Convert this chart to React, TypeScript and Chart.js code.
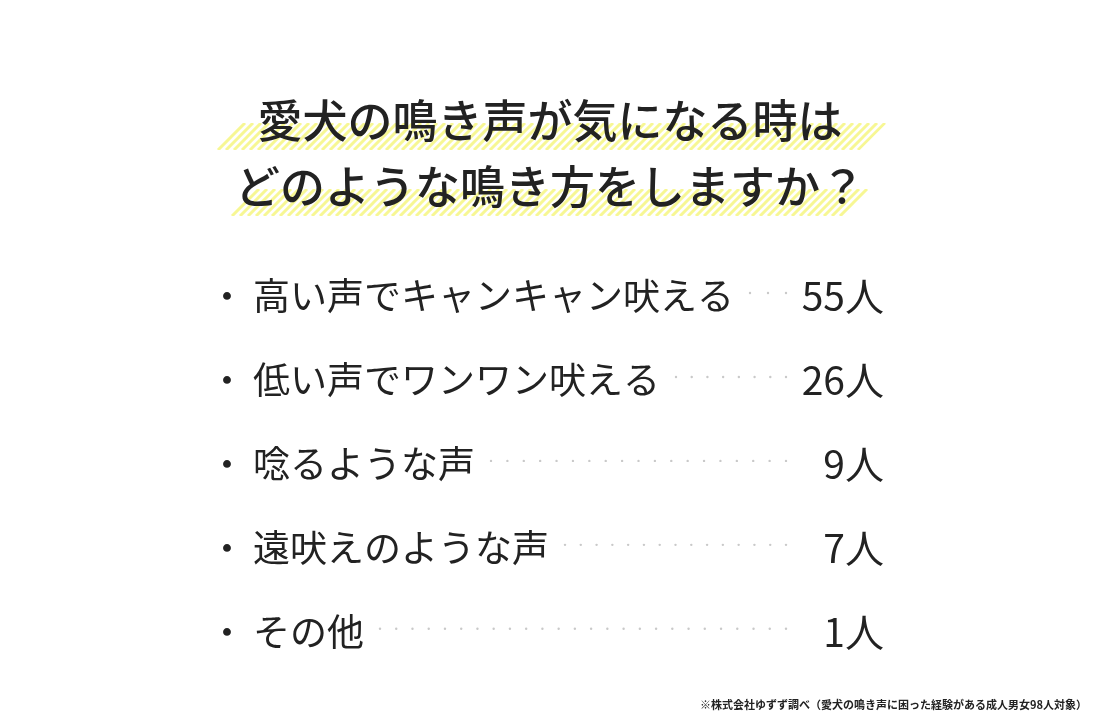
import { useEffect, useRef } from 'react';
import { Chart, registerables } from 'chart.js';

Chart.register(...registerables);

// データ
const titleLines = ['愛犬の鳴き声が気になる時は', 'どのような鳴き方をしますか？'];
const categories = ['高い声でキャンキャン吠える', '低い声でワンワン吠える', '唸るような声', '遠吠えのような声', 'その他'];
const counts = [55, 26, 9, 7, 1];
const unit = '人';
const note = '※株式会社ゆずず調べ（愛犬の鳴き声に困った経験がある成人男女98人対象）';

const FONT = '"Noto Sans CJK JP", "Noto Sans", sans-serif';
const TEXT_COLOR = '#222222';
const TITLE_SIZE = 45;
const TITLE_LINE = 66;

// タイトル背景の黄色ストライプ
const highlightPlugin = {
  id: 'titleHighlight',
  beforeDraw(chart: any) {
    const tb = chart.titleBlock;
    if (!tb) return;
    const { ctx } = chart;
    // 中心からの左右幅（下辺左端 / 上辺右端）
    const spans = [[337, 337], [323, 320]];
    const cx = (tb.left + tb.right) / 2;
    ctx.save();
    titleLines.forEach((_, i) => {
      const cy = tb.top + tb._padding.top + TITLE_LINE * (i + 0.5);
      const left = cx - spans[i][0];
      const right = cx + spans[i][1];
      const top = cy + 2;
      const bottom = cy + 29;
      const h = bottom - top;
      ctx.save();
      ctx.beginPath();
      ctx.moveTo(left, bottom);
      ctx.lineTo(left + h, top);
      ctx.lineTo(right, top);
      ctx.lineTo(right - h, bottom);
      ctx.closePath();
      ctx.clip();
      ctx.strokeStyle = 'rgba(240, 240, 60, 0.55)';
      ctx.lineWidth = 3;
      for (let x = left - h; x < right + h; x += 8) {
        ctx.beginPath();
        ctx.moveTo(x, bottom);
        ctx.lineTo(x + h, top);
        ctx.stroke();
      }
      ctx.restore();
    });
    ctx.restore();
  },
};

// 項目・点線・人数の描画
const rowsPlugin = {
  id: 'rows',
  afterDatasetsDraw(chart: any) {
    const { ctx } = chart;
    const yScale = chart.scales.y;
    const values = chart.data.datasets[0].data as number[];
    const labels = chart.data.labels as string[];
    const bulletX = 227;
    const labelX = 253;
    const leaderEnd = 786;
    const valueRight = 884;
    ctx.save();
    ctx.textBaseline = 'middle';
    labels.forEach((label, i) => {
      const y = yScale.getPixelForValue(i);
      ctx.font = `400 37px ${FONT}`;
      ctx.fillStyle = TEXT_COLOR;
      ctx.textAlign = 'center';
      ctx.fillText('・', bulletX, y);
      ctx.textAlign = 'left';
      ctx.fillText(label, labelX, y);
      const labelEnd = labelX + ctx.measureText(label).width;

      ctx.font = `400 39px ${FONT}`;
      ctx.textAlign = 'right';
      ctx.fillText(`${values[i]}${unit}`, valueRight, y);

      // 点線リーダー
      const start = labelEnd + 16;
      const n = Math.max(1, Math.round((leaderEnd - start) / 16));
      const step = (leaderEnd - start) / n;
      ctx.fillStyle = '#c9c9c9';
      for (let k = 0; k <= n; k++) {
        ctx.beginPath();
        ctx.arc(start + k * step, y - 3, 1.2, 0, Math.PI * 2);
        ctx.fill();
      }
    });
    ctx.restore();
  },
};

export default function App() {
  const canvasRef = useRef<HTMLCanvasElement>(null);
  const chartRef = useRef<Chart | null>(null);

  useEffect(() => {
    document.body.style.margin = '0';
    if (!canvasRef.current) return;
    if (chartRef.current) chartRef.current.destroy();

    chartRef.current = new Chart(canvasRef.current, {
      type: 'bar',
      data: {
        labels: categories,
        datasets: [{
          label: '人数',
          data: counts,
          backgroundColor: 'rgba(0,0,0,0)',
          borderWidth: 0,
        }],
      },
      options: {
        indexAxis: 'y',
        animation: false,
        responsive: true,
        maintainAspectRatio: false,
        events: [],
        layout: { padding: { left: 13, right: 13, top: 0, bottom: 0 } },
        plugins: {
          legend: { display: false },
          tooltip: { enabled: false },
          title: {
            display: true,
            text: titleLines,
            color: TEXT_COLOR,
            font: { family: FONT, size: TITLE_SIZE, weight: 500, lineHeight: TITLE_LINE / TITLE_SIZE },
            padding: { top: 88, bottom: 34 },
          },
          subtitle: {
            display: true,
            text: note,
            position: 'bottom',
            align: 'end',
            color: TEXT_COLOR,
            font: { family: FONT, size: 11, weight: 'bold', lineHeight: 1.2 },
            padding: { top: 24, bottom: 9 },
          },
        },
        scales: {
          x: { display: false, min: 0, max: 60 },
          y: { display: false },
        },
      },
      plugins: [highlightPlugin, rowsPlugin],
    });

    return () => {
      if (chartRef.current) {
        chartRef.current.destroy();
        chartRef.current = null;
      }
    };
  }, []);

  return (
    <div style={{ position: 'absolute', left: 0, top: 0, width: 1100, height: 720, background: '#ffffff' }}>
      <canvas ref={canvasRef} />
    </div>
  );
}
